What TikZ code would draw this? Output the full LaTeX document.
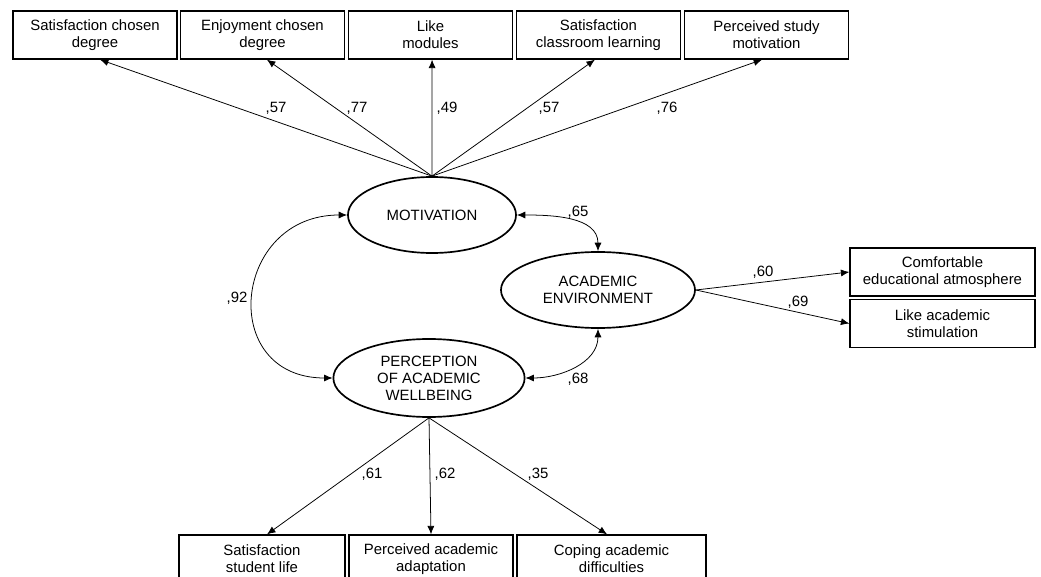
\documentclass[tikz,border=0pt]{standalone}
\usepackage{fontspec}
\setmainfont{Liberation Sans}
\usetikzlibrary{arrows.meta,shapes.geometric}

\begin{document}
\begin{tikzpicture}[x=0.025cm,y=-0.025cm,
  every node/.style={font=\fontsize{10.6}{12.1}\selectfont},
  indicator/.style={draw, line width=0.9pt, minimum width=4.1cm, minimum height=1.2cm, align=center, inner sep=1pt},
  latent/.style={draw, ellipse, line width=1.2pt, align=center, inner sep=0pt},
  loading/.style={-{Latex[length=6pt,width=5pt]}, line width=0.55pt},
  cov/.style={{Latex[length=6pt,width=5pt]}-{Latex[length=6pt,width=5pt]}, line width=0.55pt},
  coef/.style={anchor=base, inner sep=0pt}]
  \useasboundingbox (0,0) rectangle (1041,577);

  % latent factors
  \node[latent, minimum width=4.2cm, minimum height=1.9cm] (mot) at (432,215) {MOTIVATION};
  \node[latent, minimum width=4.85cm, minimum height=1.9cm] (env) at (598,290) {ACADEMIC\\ENVIRONMENT};
  \node[latent, minimum width=4.78cm, minimum height=1.95cm] (wb) at (429,378) {PERCEPTION\\OF ACADEMIC\\WELLBEING};

  % motivation indicators
  \node[indicator] (m1) at (95,35) {Satisfaction chosen\\degree};
  \node[indicator] (m2) at (262.5,35) {Enjoyment chosen\\degree};
  \node[indicator] (m3) at (430.5,35) {Like\\modules};
  \node[indicator] (m4) at (598.5,35) {Satisfaction\\classroom learning};
  \node[indicator] (m5) at (766.5,35) {Perceived study\\motivation};

  % environment indicators
  \node[indicator, minimum width=4.625cm] (e1) at (942.5,272) {Comfortable\\educational atmosphere};
  \node[indicator, minimum width=4.625cm] (e2) at (942.5,323.5) {Like academic\\stimulation};

  % wellbeing indicators
  \node[indicator, minimum width=4.15cm] (w1) at (262,559) {Satisfaction\\student life};
  \node[indicator] (w2) at (431,559) {Perceived academic\\adaptation};
  \node[indicator, minimum width=4.725cm] (w3) at (611.5,559) {Coping academic\\difficulties};

  % loadings
  \draw[loading] (mot.north) -- ([xshift=0.125cm]m1.south);
  \draw[loading] (mot.north) -- ([xshift=0.11cm]m2.south);
  \draw[loading] (mot.north) -- ([xshift=0.04cm]m3.south);
  \draw[loading] (mot.north) -- ([xshift=-0.09cm]m4.south);
  \draw[loading] (mot.north) -- ([xshift=-0.11cm]m5.south);
  \draw[loading] (env.east) -- (e1.west);
  \draw[loading] (env.east) -- (e2.west);
  \draw[loading] (wb.south) -- ([xshift=0.125cm]w1.north);
  \draw[loading] (wb.south) -- (w2.north);
  \draw[loading] (wb.south) -- ([xshift=-0.11cm]w3.north);

  % correlations
  \draw[cov] (mot.west) to[out=180,in=180,looseness=1.8] (wb.west);
  \draw[cov] (mot.east) to[out=0,in=90] (env.north);
  \draw[cov] (wb.east) to[out=0,in=-90] (env.south);

  % coefficients
  \node[coef] (l1) at (276,113) {,57};
  \node[coef] (l2) at (357,113) {,77};
  \node[coef] (l3) at (447,113) {,49};
  \node[coef] (l4) at (549,113) {,57};
  \node[coef] (l5) at (667,113) {,76};
  \node[coef] (l6) at (763,277) {,60};
  \node[coef] (l7) at (798,307) {,69};
  \node[coef] (l8) at (372,478) {,61};
  \node[coef] (l9) at (445,478) {,62};
  \node[coef] (l10) at (538,478) {,35};
  \node[coef] (r1) at (237,303) {,92};
  \node[coef] (r2) at (578,217) {,65};
  \node[coef] (r3) at (578,383) {,68};
\end{tikzpicture}
\end{document}
